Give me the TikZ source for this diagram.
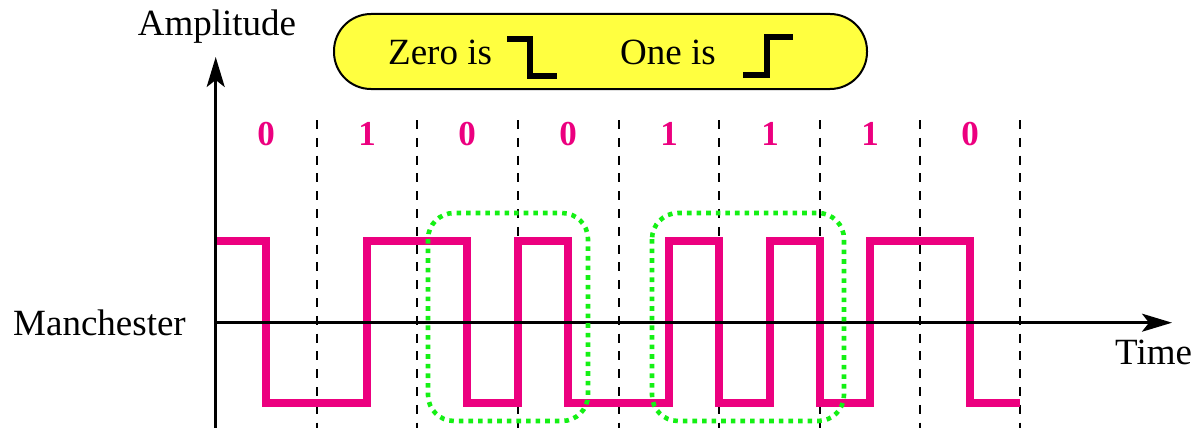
\documentclass[tikz,border=0pt]{standalone}
\usepackage{fontspec}
\setmainfont{Liberation Serif}
\usetikzlibrary{arrows.meta}
\definecolor{sigpink}{RGB}{236,0,127}
\definecolor{boxyellow}{RGB}{255,255,64}
\definecolor{dotgreen}{RGB}{20,240,20}
\tikzset{
  lbl/.style={inner sep=0pt, font=\fontsize{37}{40}\selectfont},
  bitlbl/.style={inner sep=0pt, anchor=base, text=sigpink, font=\fontsize{35}{38}\selectfont\bfseries},
  divline/.style={line width=2pt, dash pattern=on 9pt off 8.8pt},
  axisline/.style={line width=2.5pt, -{Stealth[length=30pt,width=18pt,inset=7pt]}},
  signal/.style={line width=8.5pt, sigpink, line join=miter},
  greenbox/.style={line width=4.6pt, dotgreen, dash pattern=on 4.6pt off 5pt, rounded corners=26pt},
  symb/.style={line width=6pt, line join=miter}
}
\begin{document}
\begin{tikzpicture}[x=1pt,y=-1pt]
\useasboundingbox (0,0) rectangle (1194,428);
% dashed bit boundaries
\foreach \i/\x in {1/316.7,2/417,3/517.5,4/618.5,5/719,6/819.5,7/920,8/1020}{
  \coordinate (dt\i) at (\x,120);
  \coordinate (db\i) at (\x,428);
  \draw[divline] (dt\i) -- (db\i);
}
% bits
\foreach \i/\x/\b in {1/266/0,2/367/1,3/467/0,4/568/0,5/669/1,6/770/1,7/870/1,8/970/0}{
  \node[bitlbl] (bit\i) at (\x,145) {\b};
}
% signal
\draw[signal] (215.7,241) -- (266,241) -- (266,403) -- (367,403) -- (367,241) -- (467,241)
  -- (467,403) -- (518,403) -- (518,241) -- (568,241) -- (568,403) -- (669,403)
  -- (669,241) -- (719,241) -- (719,403) -- (770,403) -- (770,241) -- (820,241)
  -- (820,403) -- (870,403) -- (870,241) -- (970,241) -- (970,403) -- (1020,403);
% axes
\coordinate (vb) at (215.7,428);
\coordinate (vt) at (215.7,57);
\coordinate (hl) at (215.7,322.7);
\coordinate (hr) at (1172,322.7);
\draw[axisline] (vb) -- (vt);
\draw[axisline] (hl) -- (hr);
% labels
\node[lbl, anchor=base] (amp) at (217,36) {Amplitude};
\node[lbl, anchor=base west] (man) at (13,335) {Manchester};
\node[lbl, anchor=base west] (time) at (1115,364) {Time};
% legend box
\node[draw=black, line width=2pt, fill=boxyellow, rounded corners=37pt,
  minimum width=533pt, minimum height=75pt, inner sep=0pt] (legend) at (600.5,51.5) {};
\node[lbl, anchor=base west] (zero) at (388,65) {Zero is};
\node[lbl, anchor=base west] (one) at (620,65) {One is};
\draw[symb] (507,39.5) -- (530,39.5) -- (530,76.5) -- (557,76.5);
\draw[symb] (743,75) -- (767,75) -- (767,37.5) -- (793,37.5);
% green highlight boxes
\draw[greenbox] (428,213) rectangle (588,421);
\draw[greenbox] (652,213) rectangle (844,421);
\end{tikzpicture}
\end{document}
